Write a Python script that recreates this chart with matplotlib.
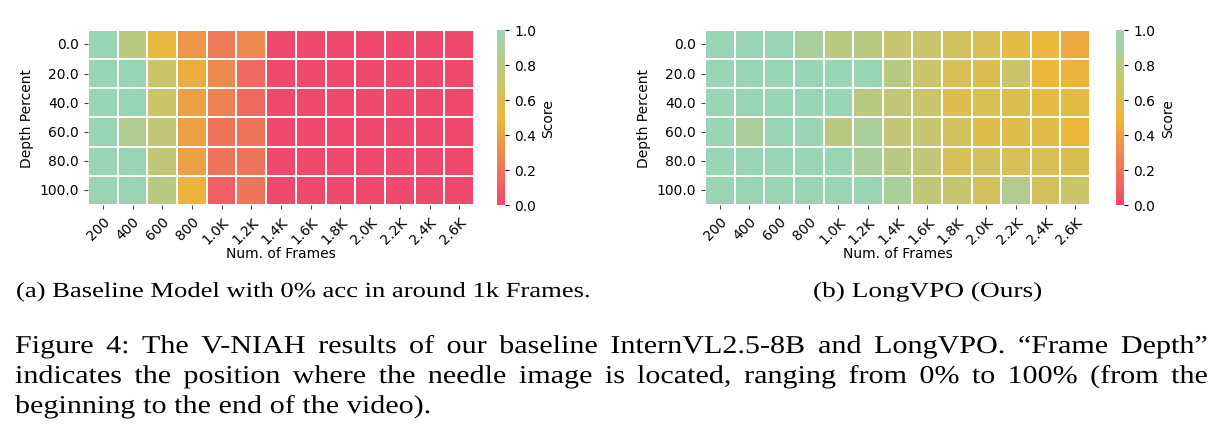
import numpy as np
import matplotlib
matplotlib.use("Agg")
import matplotlib.pyplot as plt
import seaborn as sns
from matplotlib.colors import LinearSegmentedColormap
from matplotlib import patheffects
from matplotlib.transforms import Affine2D

frames = ["200", "400", "600", "800", "1.0K", "1.2K", "1.4K", "1.6K", "1.8K", "2.0K", "2.2K", "2.4K", "2.6K"]
depths = ["0.0", "20.0", "40.0", "60.0", "80.0", "100.0"]

baseline_scores = [
    [1.0, 0.8, 0.52, 0.35, 0.22, 0.28, 0, 0, 0, 0, 0, 0, 0],
    [1.0, 1.0, 0.7, 0.45, 0.3, 0.15, 0, 0, 0, 0, 0, 0, 0],
    [1.0, 1.0, 0.7, 0.4, 0.25, 0.15, 0, 0, 0, 0, 0, 0, 0],
    [1.0, 0.85, 0.75, 0.4, 0.2, 0.2, 0, 0, 0, 0, 0, 0, 0],
    [1.0, 1.0, 0.75, 0.4, 0.2, 0.2, 0, 0, 0, 0, 0, 0, 0],
    [1.0, 1.0, 0.8, 0.48, 0.1, 0.2, 0, 0, 0, 0, 0, 0, 0],
]

longvpo_scores = [
    [1.0, 1.0, 1.0, 0.9, 0.8, 0.8, 0.72, 0.7, 0.65, 0.62, 0.55, 0.5, 0.43],
    [1.0, 1.0, 1.0, 1.0, 1.0, 1.0, 0.8, 0.7, 0.62, 0.6, 0.7, 0.5, 0.48],
    [1.0, 1.0, 1.0, 1.0, 1.0, 0.8, 0.75, 0.7, 0.58, 0.62, 0.6, 0.55, 0.55],
    [1.0, 0.9, 1.0, 1.0, 0.8, 0.9, 0.75, 0.72, 0.65, 0.58, 0.58, 0.57, 0.5],
    [1.0, 1.0, 1.0, 1.0, 1.0, 0.9, 0.8, 0.75, 0.62, 0.65, 0.62, 0.62, 0.6],
    [1.0, 1.0, 1.0, 1.0, 1.0, 1.0, 0.9, 0.75, 0.72, 0.65, 0.85, 0.65, 0.7],
]

sub_captions = ["(a) Baseline Model with 0% acc in around 1k Frames.", "(b) LongVPO (Ours)"]
caption_lines = [
    "Figure 4:  The V-NIAH results of our baseline InternVL2.5-8B and LongVPO. \u201cFrame Depth\u201d",
    "indicates the position where the needle image is located, ranging from 0% to 100% (from the",
    "beginning to the end of the video).",
]

cmap = LinearSegmentedColormap.from_list("custom_cmap", ["#F0496E", "#EBB839", "#9AD5B3"])


class StretchX(patheffects.AbstractPathEffect):
    # scale glyphs horizontally about the text origin to match the page's text shape
    def __init__(self, sx):
        super().__init__()
        self.sx = sx

    def draw_path(self, renderer, gc, tpath, affine, rgbFace=None):
        ox, oy = affine.transform((0, 0))
        affine = affine + Affine2D().translate(-ox, -oy).scale(self.sx, 1).translate(ox, oy)
        renderer.draw_path(gc, tpath, affine, rgbFace)


fig = plt.figure(figsize=(12.24, 4.39), dpi=100)
heat_axes = [fig.add_axes([0.0719, 0.531, 0.3154, 0.399]), fig.add_axes([0.576, 0.531, 0.3146, 0.399])]
cbar_axes = [fig.add_axes([0.406, 0.531, 0.0066, 0.399]), fig.add_axes([0.9118, 0.531, 0.0066, 0.399])]

for ax, cax, scores in zip(heat_axes, cbar_axes, [baseline_scores, longvpo_scores]):
    sns.heatmap(np.array(scores), ax=ax, cbar_ax=cax, cmap=cmap, vmin=0, vmax=1,
                linewidths=1.2, linecolor="white", xticklabels=frames, yticklabels=depths,
                cbar_kws={"label": "Score"})
    ax.set_xticklabels(frames, rotation=45, ha="right", rotation_mode="anchor", fontsize=10)
    ax.set_yticklabels(depths, rotation=0, fontsize=10)
    ax.set_xlabel("Num. of Frames", fontsize=10, labelpad=0)
    ax.set_ylabel("Depth Percent", fontsize=10)
    ax.tick_params(length=3, color="#444444")
    cax.tick_params(labelsize=10, length=3)
    cax.set_yticks([0, 0.2, 0.4, 0.6, 0.8, 1.0])
    cax.yaxis.label.set_size(10)

serif = "Liberation Serif"
fig.canvas.draw()
renderer = fig.canvas.get_renderer()
W, H = 1224, 439

# sub captions: left edge / right edge in pixels taken from the page
for text, (left, right) in zip(sub_captions, [(16, 590), (813, 1042)]):
    t = fig.text(left / W, 1 - 298 / H, text, fontsize=15.5, family=serif, va="baseline")
    sx = (right - left) / t.get_window_extent(renderer).width
    t.set_path_effects([StretchX(sx)])

# justified caption; the last line (natural spacing) ends near x=432 on the page
x0, x1 = 15, 1208
line_y = [354, 384, 414]
fs = 18.5
probe = fig.text(0, 0, caption_lines[2], fontsize=fs, family=serif)
sx = (432 - x0) / probe.get_window_extent(renderer).width
probe.remove()
for i, (line, y) in enumerate(zip(caption_lines, line_y)):
    words = [w for w in line.split(" ") if w]
    texts = [fig.text(0, 1 - y / H, w, fontsize=fs, family=serif, va="baseline",
                      path_effects=[StretchX(sx)]) for w in words]
    widths = [t.get_window_extent(renderer).width * sx for t in texts]
    if i < len(caption_lines) - 1:
        gap = (x1 - x0 - sum(widths)) / (len(words) - 1)
    else:
        gap = fs * 0.25 * 100 / 72 * sx
    x = x0
    for t, w in zip(texts, widths):
        t.set_x(x / W)
        x += w + gap

fig.savefig("out.png", dpi=100)
